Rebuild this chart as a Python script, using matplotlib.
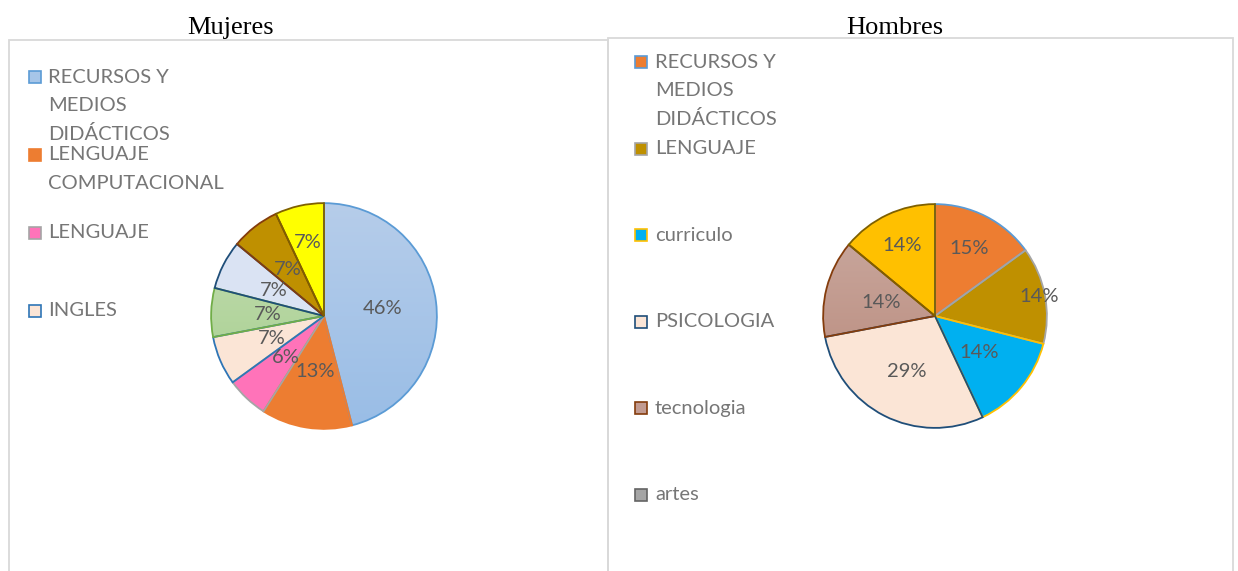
import matplotlib
matplotlib.use('Agg')
import matplotlib.pyplot as plt
import numpy as np
from matplotlib.patches import Rectangle, Wedge
from matplotlib.colors import to_rgb

W, H, DPI = 1238, 571, 100

# ---------------- data ----------------
mujeres_legend = ["RECURSOS Y\nMEDIOS\nDIDÁCTICOS", "LENGUAJE\nCOMPUTACIONAL", "LENGUAJE", "INGLES"]
mujeres_values = [46, 13, 6, 7, 7, 7, 7, 7]
hombres_legend = ["RECURSOS Y\nMEDIOS\nDIDÁCTICOS", "LENGUAJE", "curriculo", "PSICOLOGIA", "tecnologia", "artes"]
hombres_values = [15, 14, 14, 29, 14, 14]

# ---------------- styles ----------------
m_face = ["#a6c5e8", "#ed7d31", "#ff73b9", "#fbe5d6", "#b5d6a0", "#dae3f3", "#bf9000", "#ffff00"]
m_grad = {0: ("#b6cdea", "#99bde6"), 4: ("#c6dfb6", "#a2cc88")}
m_edge = ["#5b9bd5", "#ed7d31", "#a5a5a5", "#2e75b6", "#70ad47", "#1f4e79", "#843c0c", "#7f6000"]
m_ldist = [0.52, 0.5, 0.5, 0.5, 0.5, 0.5, 0.52, 0.67]
m_leg_face = ["#a6c5e8", "#ed7d31", "#ff73b9", "#fbe5d6"]
m_leg_edge = ["#5b9bd5", "#ed7d31", "#a5a5a5", "#2e75b6"]

h_face = ["#ed7d31", "#bf9000", "#00b0f0", "#fbe5d6", "#c29b91", "#ffc000"]
h_grad = {4: ("#cbaba2", "#b78677")}
h_edge = ["#5b9bd5", "#a5a5a5", "#ffc000", "#1f4e79", "#843c0c", "#7f6000"]
h_ldist = [0.68, 0.95, 0.51, 0.56, 0.5, 0.7]
h_leg_face = ["#ed7d31", "#bf9000", "#00b0f0", "#fbe5d6", "#c29b91", "#a5a5a5"]
h_leg_edge = ["#5b9bd5", "#a5a5a5", "#ffc000", "#1f4e79", "#843c0c", "#636363"]

TXT = "#595959"
LEG_TXT = "#767676"
SANS = ["Lato", "DejaVu Sans"]
FS = 14.5

fig = plt.figure(figsize=(W / DPI, H / DPI), dpi=DPI)
fig.patch.set_facecolor("white")


def fx(x):
    return x / W


def fy(y):
    return 1 - y / H


# panel frames
for (x0, x1, y0) in [(9, 608, 40), (608, 1233, 38)]:
    fig.patches.append(Rectangle((fx(x0), fy(H + 20)), fx(x1) - fx(x0), fy(y0) - fy(H + 20),
                                 transform=fig.transFigure, facecolor="none",
                                 edgecolor="#d9d9d9", lw=1.3, zorder=0))

# titles
fig.text(fx(231), fy(34), "Mujeres", ha="center", va="baseline",
         family="Liberation Serif", fontsize=19, color="black")
fig.text(fx(895), fy(34), "Hombres", ha="center", va="baseline",
         family="Liberation Serif", fontsize=19, color="black")


def draw_pie(cx, cy, r, values, faces, edges, grads, ldist):
    ax = fig.add_axes([fx(cx - r), fy(cy + r), 2 * r / W, 2 * r / H])
    wedges, _ = ax.pie(values, colors=faces, startangle=90, counterclock=False,
                       wedgeprops=dict(edgecolor="none", linewidth=0))
    total = float(sum(values))
    for i, w in enumerate(wedges):
        if i in grads:
            top, bot = grads[i]
            t = np.linspace(0, 1, 256)[:, None]
            img = (1 - t) * np.array(to_rgb(top)) + t * np.array(to_rgb(bot))
            img = np.repeat(img[:, None, :], 2, axis=1).reshape(256, 2, 3)
            im = ax.imshow(img, extent=(-1, 1, -1, 1), origin="upper", aspect="auto", zorder=1)
            im.set_clip_path(w)
            w.set_facecolor("none")
    for i, w in enumerate(wedges):
        w.set_zorder(2)
        ax.add_patch(Wedge(w.center, w.r, w.theta1, w.theta2,
                           facecolor="none", edgecolor=edges[i], lw=1.3, zorder=3))
    for i, w in enumerate(wedges):
        ang = np.deg2rad((w.theta1 + w.theta2) / 2)
        d = ldist[i]
        ax.text(d * np.cos(ang), d * np.sin(ang), f"{values[i] / total * 100:.0f}%",
                ha="center", va="center", family=SANS, fontsize=FS, color=TXT, zorder=5)
    ax.set_xlim(-1.01, 1.01)
    ax.set_ylim(-1.01, 1.01)
    ax.set_aspect("equal")
    ax.axis("off")
    return ax


draw_pie(324, 316, 114, mujeres_values, m_face, m_edge, m_grad, m_ldist)
draw_pie(935, 316, 113, hombres_values, h_face, h_edge, h_grad, h_ldist)


def draw_legend(x_sq, x_txt, y_start, step, labels, faces, edges):
    sq = 12
    for i, lab in enumerate(labels):
        y = y_start + i * step
        fig.patches.append(Rectangle((fx(x_sq - sq / 2), fy(y + sq / 2)), sq / W, sq / H,
                                     transform=fig.transFigure, facecolor=faces[i],
                                     edgecolor=edges[i], lw=1.2, zorder=4))
        for j, line in enumerate(lab.split("\n")):
            fig.text(fx(x_txt), fy(y + j * 28.5), line, ha="left", va="center",
                     family=SANS, fontsize=FS, color=LEG_TXT)


draw_legend(35, 48, 77, 78, mujeres_legend, m_leg_face, m_leg_edge)
draw_legend(641, 655, 62, 86.6, hombres_legend, h_leg_face, h_leg_edge)

fig.savefig("out.png", dpi=DPI)
